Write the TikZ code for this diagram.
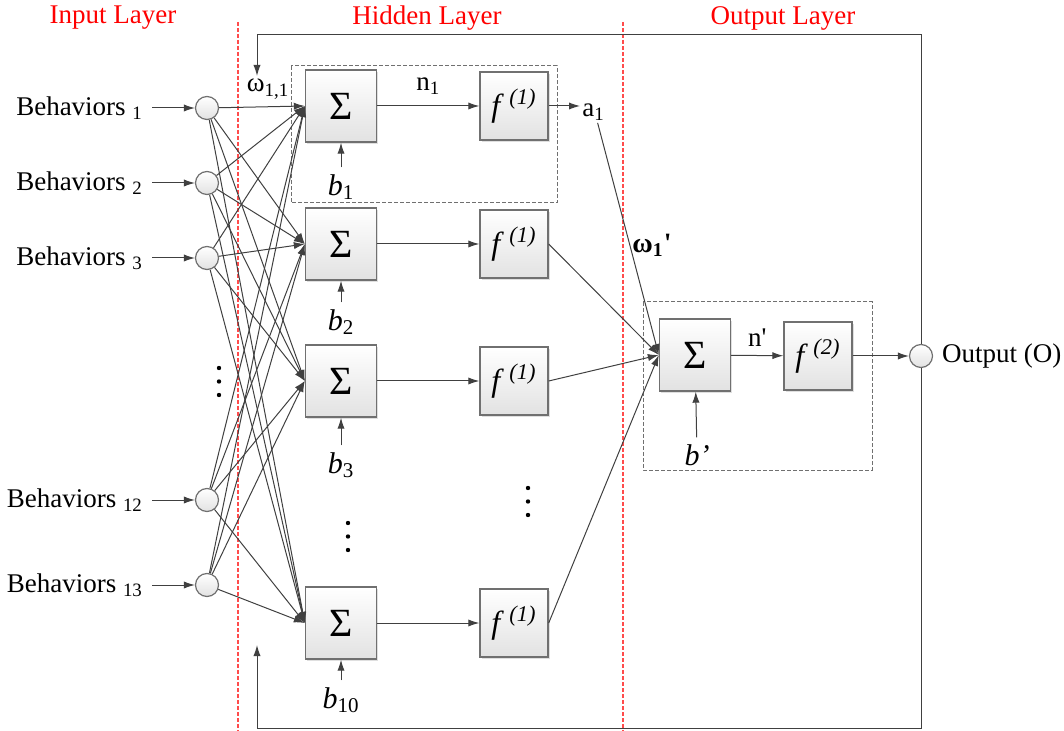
\documentclass[tikz,border=0pt]{standalone}
\usepackage{fontspec}
\setmainfont{Liberation Serif}
\usepackage{tikz}
\usetikzlibrary{arrows.meta,positioning,calc,shadows}
\definecolor{layerred}{HTML}{FF0000}
\definecolor{wiregray}{HTML}{404040}
\definecolor{edgegray}{HTML}{707070}
\definecolor{boxgray}{HTML}{E2E2E2}

\begin{document}
\begin{tikzpicture}[x=0.5pt,y=-0.5pt,font=\fontsize{13.5}{16}\selectfont,
        >={Latex[length=5.5pt,width=3.6pt]},
        wire/.style={draw=wiregray,line width=0.5pt},
        link/.style={wire,->},
        sumbox/.style={draw=edgegray,line width=0.7pt,top color=white,bottom color=boxgray,
              minimum width=35.5pt,minimum height=36pt,inner sep=0pt,
              drop shadow={shadow xshift=0.8pt,shadow yshift=-0.8pt,opacity=0.25},
              font=\fontsize{20}{20}\selectfont},
        actbox/.style={sumbox,minimum width=34pt,minimum height=34pt,
              font=\fontsize{16}{16}\selectfont},
        unit/.style={circle,draw=edgegray,line width=0.6pt,top color=white,
              bottom color=boxgray,minimum size=11.5pt,inner sep=0pt},
        biaslbl/.style={font=\fontsize{15}{16}\selectfont},
        layerline/.style={draw=layerred!70,line width=0.6pt,dash pattern=on 2pt off 1pt},
        groupbox/.style={draw=edgegray,line width=0.5pt,dash pattern=on 2pt off 1pt},
        layertitle/.style={text=layerred}]
        \useasboundingbox (0,0) rectangle (1064,731);

        % layer titles and borders
        \node[layertitle] (tin) at (113,18) {Input Layer};
        \node[layertitle] (thid) at (427,18) {Hidden Layer};
        \node[layertitle] (tout) at (783,18) {Output Layer};
        \draw[layerline] (238,22) -- (238,731);
        \draw[layerline] (623,22) -- (623,731);

        % neuron groups
        \draw[groupbox] (291,66) rectangle (557,203);
        \draw[groupbox] (643,302) rectangle (872,470);

        % input layer
        \foreach \i/\y in {1/108,2/183,3/258,12/500,13/585} {
          \node[unit] (x\i) at (207,\y) {};
          \node[anchor=east] (lb\i) at (150,\y) {Behaviors \textsubscript{\i}};
          \draw[link] ([xshift=1pt]lb\i.east) -- (x\i);
        }

        % hidden layer
        \foreach \j/\y/\by in {1/106/187,2/244/322,3/381/465,10/623/700} {
          \node[sumbox] (s\j) at (341,\y) {Σ};
          \node[actbox] (f\j) at (514,\y) {\textit{f}\,\textsuperscript{\textit{(1)}}};
          \node[biaslbl] (b\j) at (341,\by) {\textit{b}\textsubscript{\j}};
          \draw[link] (b\j) -- (s\j);
        }
        \draw[link] (s1) -- node[above=2pt] {n\textsubscript{1}} (f1);
        \foreach \j in {2,3,10} \draw[link] (s\j) -- (f\j);
        \foreach \i in {1,2,3,12,13}
          \foreach \j in {1,2,3,10}
            \draw[link] (x\i) -- (s\j.west);
        \node (w11) at (268,89) {ω\textsubscript{1,1}};
        \node[anchor=west,inner sep=1pt] (a1) at (580,112) {a\textsubscript{1}};
        \draw[link] (f1.east) -- (f1.east -| a1.west);

        % output layer
        \node[sumbox] (so) at (695,355) {Σ};
        \node[actbox] (fo) at (818,356) {\textit{f}\,\textsuperscript{\textit{(2)}}};
        \node[biaslbl] (bo) at (697,455) {\textit{b’}};
        \node[unit] (yo) at (921,356) {};
        \node[right=1pt of yo] (olbl) {Output (O)};
        \draw[link] (bo) -- (so);
        \draw[link] (so) -- node[above=1pt] {n\textquotesingle} (fo);
        \draw[link] (fo) -- (yo);
        \draw[link] ([xshift=2pt]a1.south) -- (so.west);
        \foreach \j in {2,3,10} \draw[link] (f\j.east) -- (so.west);
        \node[font=\fontsize{14}{16}\selectfont\bfseries] (w1o) at (652,245)
              {ω\textsubscript{1}\textquotesingle};

        % feedback
        \coordinate (fbin) at (257,76);
        \coordinate (fbin2) at (257,645);
        \coordinate (fbtop) at (921,35);
        \coordinate (fbbot) at (921,728);
        \draw[link] (yo.north) -- (fbtop) -| (fbin);
        \draw[link] (yo.south) -- (fbbot) -| (fbin2);

        % dots
        \foreach \d in {0,1,2} {
          \fill (219,368+13.5*\d) circle (1.1pt);
          \fill (348,523+13.5*\d) circle (1.1pt);
          \fill (528,488+13.5*\d) circle (1.1pt);
        }
      \end{tikzpicture}
\end{document}
